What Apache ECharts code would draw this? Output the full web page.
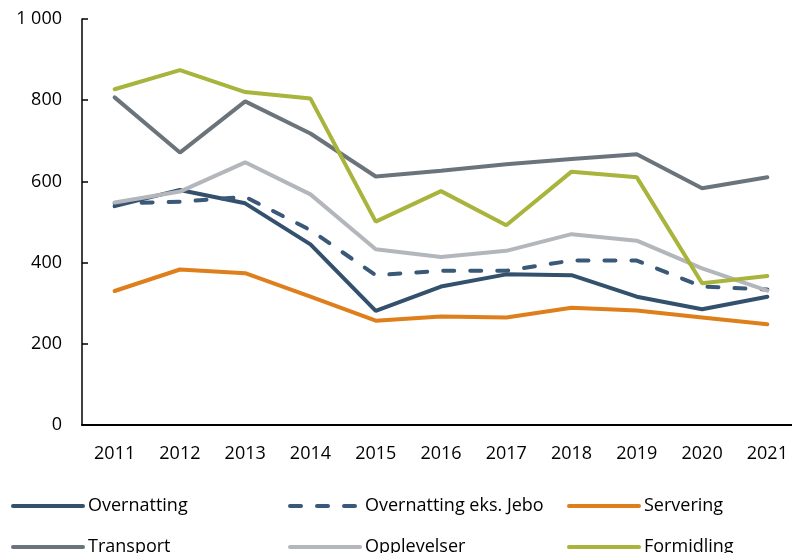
<!DOCTYPE html>
<html>
<head>
<meta charset="utf-8">
<script src="https://cdn.jsdelivr.net/npm/echarts@6/dist/echarts.min.js"></script>
<style>
  html, body { margin: 0; padding: 0; background: #fff; }
  #main { width: 792px; height: 553px; }
</style>
</head>
<body>
<div id="main"></div>
<script>
  var years = ['2011', '2012', '2013', '2014', '2015', '2016', '2017', '2018', '2019', '2020', '2021'];

  // verdier lest av figuren
  var overnatting = [539, 579, 546, 445, 281, 341, 371, 369, 316, 285, 316];
  var overnattingEksJebo = [546, 550, 562, 480, 369, 380, 380, 405, 405, 341, 334];
  var servering = [330, 383, 374, 316, 257, 267, 265, 289, 282, 265, 248];
  var transport = [807, 671, 797, 718, 612, 626, 642, 655, 667, 583, 610];
  var opplevelser = [548, 575, 647, 568, 433, 414, 429, 470, 454, 386, 331];
  var formidling = [827, 874, 820, 804, 501, 576, 492, 624, 610, 349, 367];

  var font = 'Open Sans';
  var txt = { fontFamily: font, fontSize: 18, color: '#000' };

  function line(name, data, color, dash) {
    return {
      name: name,
      type: 'line',
      data: data,
      symbol: 'none',
      color: color,
      lineStyle: { color: color, width: 4, type: dash ? [11, 16] : 'solid', cap: 'round' },
      z: 2
    };
  }

  function legend(name, left, top) {
    return {
      data: [name],
      left: left,
      top: top,
      itemWidth: 70,
      itemHeight: 14,
      itemGap: 0,
      textStyle: txt,
      itemStyle: { opacity: 0 },
      lineStyle: { width: 4, cap: 'round' },
      selectedMode: false
    };
  }

  var myChart = echarts.init(document.getElementById('main'));
  var option = {
    animation: false,
    grid: { left: 82, top: 19, bottom: 128, width: 718, outerBoundsMode: 'none', containLabel: false },
    legend: [
      legend('Overnatting', 6, 492),
      legend('Overnatting eks. Jebo', 283, 492),
      legend('Servering', 562, 492),
      legend('Transport', 6, 533),
      legend('Opplevelser', 283, 533),
      legend('Formidling', 562, 533)
    ],
    xAxis: {
      type: 'category',
      data: years,
      boundaryGap: true,
      axisLine: { lineStyle: { color: '#000', width: 2 } },
      axisTick: { show: false },
      axisLabel: Object.assign({ margin: 20 }, txt),
      splitLine: { show: false }
    },
    yAxis: {
      type: 'value',
      min: 0,
      max: 1000,
      interval: 200,
      axisLine: { show: true, lineStyle: { color: '#000', width: 1.5 } },
      axisTick: { show: true, inside: true, length: 6, lineStyle: { color: '#000', width: 1.5 } },
      axisLabel: Object.assign({
        margin: 20,
        formatter: function (v) { return v >= 1000 ? String(v).replace(/\B(?=(\d{3})+(?!\d))/g, ' ') : String(v); }
      }, txt),
      splitLine: { show: false }
    },
    series: [
      line('Overnatting', overnatting, '#33506d', false),
      line('Overnatting eks. Jebo', overnattingEksJebo, '#3a5878', true),
      line('Servering', servering, '#df7f1c', false),
      line('Transport', transport, '#6c747b', false),
      line('Opplevelser', opplevelser, '#b3b7bb', false),
      line('Formidling', formidling, '#a8b43b', false)
    ]
  };
  myChart.setOption(option);
</script>
</body>
</html>
